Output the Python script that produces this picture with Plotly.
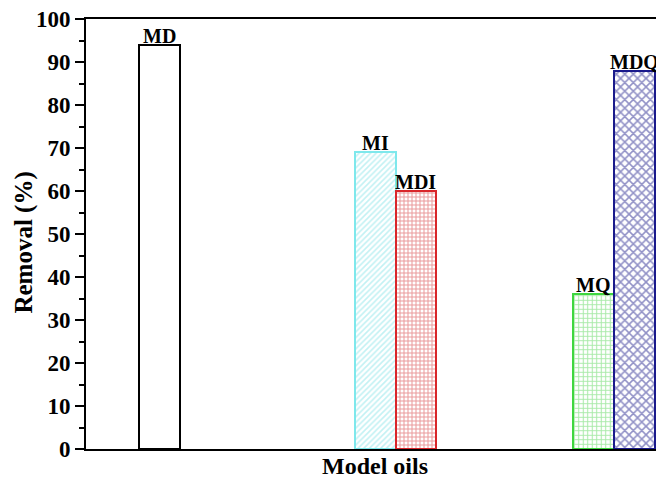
import plotly.graph_objects as go

# Data
categories = ["MD", "MI", "MDI", "MQ", "MDQ"]
removal = [94, 69, 60, 36, 88]

# Layout constants (bar slot positions along the x axis, in bar-width units)
slots = [1.8, 7.05, 8.05, 12.37, 13.37]
line_colors = ["#000000", "#7ee8ec", "#d9262a", "#3fd63f", "#1a1a8c"]
pattern_shapes = ["", "/", "+", "+", "x"]
pattern_colors = ["#000000", "#86e4e8", "#d4363a", "#50d450", "#24248e"]
pattern_sizes = [6, 4, 4, 4.5, 6]
pattern_solid = [0.2, 0.4, 0.45, 0.4, 0.45]

FONT = "Liberation Serif, Times New Roman, serif"

fig = go.Figure()
for i, cat in enumerate(categories):
    fig.add_trace(go.Bar(
        x=[slots[i]], y=[removal[i]], width=1.0, name=cat,
        marker=dict(
            color="white",
            line=dict(color=line_colors[i], width=2),
            pattern=dict(shape=pattern_shapes[i], fgcolor=pattern_colors[i],
                         bgcolor="white", size=pattern_sizes[i],
                         solidity=pattern_solid[i]),
        ),
        showlegend=False,
    ))
    fig.add_annotation(x=slots[i], y=removal[i], text=f"<b>{cat}</b>",
                       showarrow=False, yanchor="bottom", yshift=-4,
                       font=dict(family=FONT, size=20, color="black"))

# axis titles
fig.add_annotation(x=0.5, y=-17 / 430, xref="paper", yref="paper",
                   text="<b>Model oils</b>", showarrow=False, yanchor="middle",
                   font=dict(family=FONT, size=24, color="black"))
fig.add_annotation(x=-62 / 578, y=0.48, xref="paper", yref="paper",
                   text="<b>Removal (%)</b>", showarrow=False, textangle=-90,
                   xanchor="center", yanchor="middle",
                   font=dict(family=FONT, size=25, color="black"))

# the page has an 8px body margin, so the figure is sized/offset to compensate
fig.update_layout(
    width=656, height=475,
    margin=dict(l=78, r=0, t=11, b=34),
    plot_bgcolor="white", paper_bgcolor="white",
    bargap=0,
    xaxis=dict(range=[0, 14.1], showticklabels=False, ticks="", showgrid=False,
               zeroline=False, showline=True, linecolor="black", linewidth=2,
               mirror=True),
    yaxis=dict(range=[0, 100], dtick=10, tick0=0, ticks="outside", ticklen=9,
               tickwidth=2, tickcolor="black", showgrid=False, zeroline=False,
               showline=True, linecolor="black", linewidth=2,
               ticklabeloverflow="allow",
               minor=dict(dtick=5, ticks="outside", ticklen=5, tickwidth=2,
                          tickcolor="black"),
               tickfont=dict(family=FONT, size=23, color="black"),
               tickprefix="<b>", ticksuffix="</b>"),
)

fig.write_html("out.html")
